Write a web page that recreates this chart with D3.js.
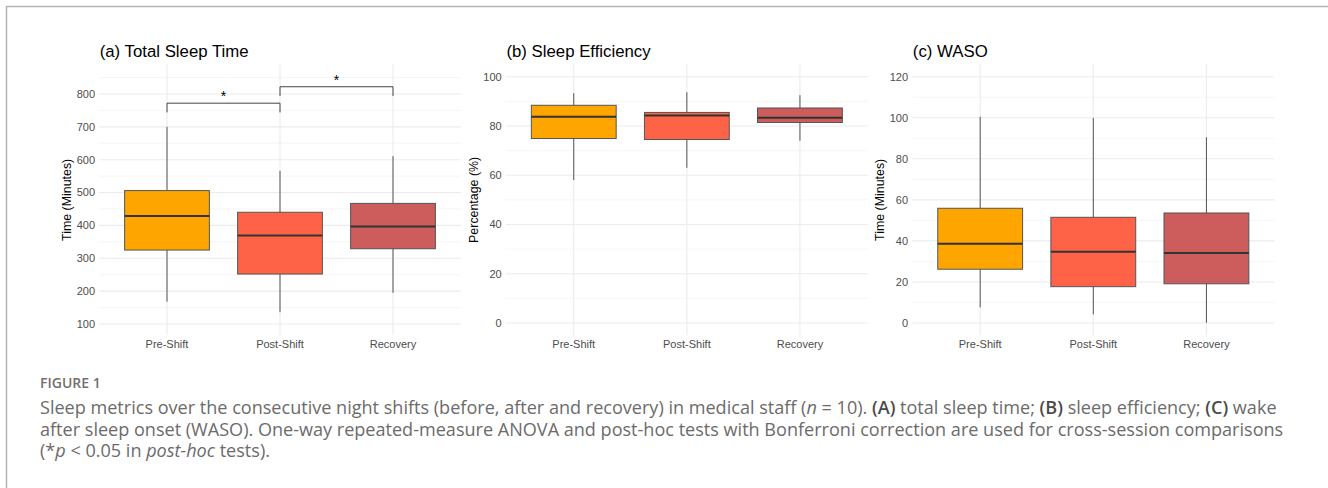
<!DOCTYPE html>
<html>
<head>
<meta charset="utf-8">
<script src="https://cdn.jsdelivr.net/npm/d3@7"></script>
<style>
    body { margin: 0; background: #fff; }
    svg { display: block; }
</style>
</head>
<body>
<div class="sleep-viz"></div>
<script>
// groups on the x axis
const categories = ["Pre-Shift", "Post-Shift", "Recovery"];
const fills = ["#FFA500", "#FF6347", "#CD5C5C"];

// (a) total sleep time, minutes
const tstLow = [168, 136, 195];
const tstQ1 = [325, 252, 329];
const tstMedian = [429, 369, 397];
const tstQ3 = [506, 440, 467];
const tstHigh = [700, 566, 611];
const tstTicks = [100, 200, 300, 400, 500, 600, 700, 800];
const tstDomain = [65.6, 890];

// (b) sleep efficiency, %
const seLow = [58, 63, 74];
const seQ1 = [74.9, 74.5, 81.4];
const seMedian = [83.7, 84.2, 83.3];
const seQ3 = [88.4, 85.5, 87.3];
const seHigh = [93.3, 93.7, 92.5];
const seTicks = [0, 20, 40, 60, 80, 100];
const seDomain = [-5, 105];

// (c) WASO, minutes
const wasoLow = [7.6, 4.2, 0.1];
const wasoQ1 = [26.2, 17.7, 19.1];
const wasoMedian = [38.6, 34.7, 34.1];
const wasoQ3 = [55.9, 51.5, 53.6];
const wasoHigh = [100.5, 99.9, 90.5];
const wasoTicks = [0, 20, 40, 60, 80, 100, 120];
const wasoDomain = [-6, 126];

// significance brackets for panel (a): [from, to, bar value, tip value]
const tstBrackets = [[0, 1, 772, 744], [1, 2, 822, 794]];

var width = 1328;
var height = 488;

var svg = d3.select(".sleep-viz")
    .append("svg")
    .attr("width", width)
    .attr("height", height);

svg.append("rect").attr("width", width).attr("height", height).attr("fill", "#fff");

// page frame (only top and left edges visible)
svg.append("path")
    .attr("d", `M6.5,${height} V6.5 H${width}`)
    .attr("fill", "none")
    .attr("stroke", "#b5b5b5")
    .attr("stroke-width", 1.5);

const plotTop = 64.4;
const plotBottom = 335.3;

const panels = [
    { title: "(a) Total Sleep Time", ylab: "Time (Minutes)", left: 99.2, right: 460.8,
      low: tstLow, q1: tstQ1, med: tstMedian, q3: tstQ3, high: tstHigh,
      ticks: tstTicks, domain: tstDomain, brackets: tstBrackets },
    { title: "(b) Sleep Efficiency", ylab: "Percentage (%)", left: 505.9, right: 867.8,
      low: seLow, q1: seQ1, med: seMedian, q3: seQ3, high: seHigh,
      ticks: seTicks, domain: seDomain, brackets: [] },
    { title: "(c) WASO", ylab: "Time (Minutes)", left: 912.3, right: 1274.3,
      low: wasoLow, q1: wasoQ1, med: wasoMedian, q3: wasoQ3, high: wasoHigh,
      ticks: wasoTicks, domain: wasoDomain, brackets: [] }
];

panels.forEach(p => drawPanel(p));

function drawPanel(p) {
    const g = svg.append("g");

    var x = d3.scalePoint()
        .domain(categories)
        .range([p.left, p.right])
        .padding(0.6);

    var y = d3.scaleLinear()
        .domain(p.domain)
        .range([plotBottom, plotTop]);

    const step = p.ticks[1] - p.ticks[0];
    const minor = p.ticks.slice(0, -1).map(t => t + step / 2)
        .concat([p.ticks[p.ticks.length - 1] + step / 2])
        .filter(t => t <= p.domain[1]);

    // minor grid
    g.selectAll(".minor").data(minor).join("line")
        .attr("x1", p.left).attr("x2", p.right)
        .attr("y1", d => y(d)).attr("y2", d => y(d))
        .attr("stroke", "#f0f0f0").attr("stroke-width", 0.6);

    // major grid
    g.selectAll(".major").data(p.ticks).join("line")
        .attr("x1", p.left).attr("x2", p.right)
        .attr("y1", d => y(d)).attr("y2", d => y(d))
        .attr("stroke", "#ebebeb").attr("stroke-width", 1.1);

    g.selectAll(".vgrid").data(categories).join("line")
        .attr("x1", d => x(d)).attr("x2", d => x(d))
        .attr("y1", plotTop).attr("y2", plotBottom)
        .attr("stroke", "#ebebeb").attr("stroke-width", 1.1);

    // y tick labels
    g.selectAll(".ytick").data(p.ticks).join("text")
        .attr("x", p.left - 4.2)
        .attr("y", d => y(d))
        .attr("dy", "0.35em")
        .attr("text-anchor", "end")
        .attr("font-family", "Liberation Sans, Arial, sans-serif")
        .attr("font-size", 11)
        .attr("fill", "#4d4d4d")
        .text(d => d);

    // x tick labels
    g.selectAll(".xtick").data(categories).join("text")
        .attr("x", d => x(d))
        .attr("y", 348)
        .attr("text-anchor", "middle")
        .attr("font-family", "Liberation Sans, Arial, sans-serif")
        .attr("font-size", 11)
        .attr("fill", "#4d4d4d")
        .text(d => d);

    // y axis title
    g.append("text")
        .attr("transform", `translate(${p.left - 32.5},${(plotTop + plotBottom) / 2}) rotate(-90)`)
        .attr("dy", "0.35em")
        .attr("text-anchor", "middle")
        .attr("font-family", "Liberation Sans, Arial, sans-serif")
        .attr("font-size", 12.4)
        .attr("fill", "#000")
        .text(p.ylab);

    // panel title
    g.append("text")
        .attr("x", p.left + 0.5)
        .attr("y", 57)
        .attr("font-family", "Liberation Sans, Arial, sans-serif")
        .attr("font-size", 16.8)
        .attr("fill", "#000")
        .text(p.title);

    const boxW = x.step() * 0.75;

    // whiskers
    g.selectAll(".whisker").data(categories).join("line")
        .attr("x1", d => x(d)).attr("x2", d => x(d))
        .attr("y1", (d, i) => y(p.low[i]))
        .attr("y2", (d, i) => y(p.high[i]))
        .attr("stroke", "#555").attr("stroke-width", 1);

    // boxes
    g.selectAll(".box").data(categories).join("rect")
        .attr("x", d => x(d) - boxW / 2)
        .attr("width", boxW)
        .attr("y", (d, i) => y(p.q3[i]))
        .attr("height", (d, i) => y(p.q1[i]) - y(p.q3[i]))
        .attr("fill", (d, i) => fills[i])
        .attr("stroke", "#555").attr("stroke-width", 1);

    // medians
    g.selectAll(".median").data(categories).join("line")
        .attr("x1", d => x(d) - boxW / 2).attr("x2", d => x(d) + boxW / 2)
        .attr("y1", (d, i) => y(p.med[i]))
        .attr("y2", (d, i) => y(p.med[i]))
        .attr("stroke", "#333").attr("stroke-width", 2);

    // significance brackets
    p.brackets.forEach(b => {
        const x1 = x(categories[b[0]]);
        const x2 = x(categories[b[1]]);
        g.append("path")
            .attr("d", `M${x1},${y(b[3])} V${y(b[2])} H${x2} V${y(b[3])}`)
            .attr("fill", "none")
            .attr("stroke", "#444").attr("stroke-width", 1);
        g.append("text")
            .attr("x", (x1 + x2) / 2)
            .attr("y", y(b[2]) - 2)
            .attr("text-anchor", "middle")
            .attr("font-family", "Liberation Sans, Arial, sans-serif")
            .attr("font-size", 14)
            .attr("fill", "#000")
            .text("*");
    });
}

// caption
const capFont = "Open Sans, sans-serif";
const capColor = "#6b6b6b";

svg.append("text")
    .attr("x", 40).attr("y", 388)
    .attr("font-family", capFont)
    .attr("font-size", 14)
    .attr("font-weight", 600)
    .attr("fill", "#707070")
    .text("FIGURE 1");

const captionLines = [
    [["Sleep metrics over the consecutive night shifts (before, after and recovery) in medical staff (", ""], ["n", "i"], [" = 10). ", ""], ["(A)", "b"], [" total sleep time; ", ""], ["(B)", "b"], [" sleep efficiency; ", ""], ["(C)", "b"], [" wake", ""]],
    [["after sleep onset (WASO). One-way repeated-measure ANOVA and post-hoc tests with Bonferroni correction are used for cross-session comparisons", ""]],
    [["(*", ""], ["p", "i"], [" < 0.05 in ", ""], ["post-hoc", "i"], [" tests).", ""]]
];
const captionY = [414, 435.5, 457];

const capText = svg.append("g")
    .attr("font-family", capFont)
    .attr("fill", capColor);

captionLines.forEach((parts, li) => {
    const t = capText.append("text")
        .attr("x", 40)
        .attr("y", captionY[li]);
    parts.forEach(([s, style]) => {
        const ts = t.append("tspan").text(s);
        if (style == "i") ts.attr("font-style", "italic");
        if (style == "b") ts.attr("font-weight", 600).attr("fill", "#4a4a4a");
    });
});

// size the caption so the second line spans the same width as in the figure
capText.attr("font-size", 16);
const measured = capText.selectAll("text").nodes()[1].getComputedTextLength();
capText.attr("font-size", 16 * 1244 / measured);
</script>
</body>
</html>
